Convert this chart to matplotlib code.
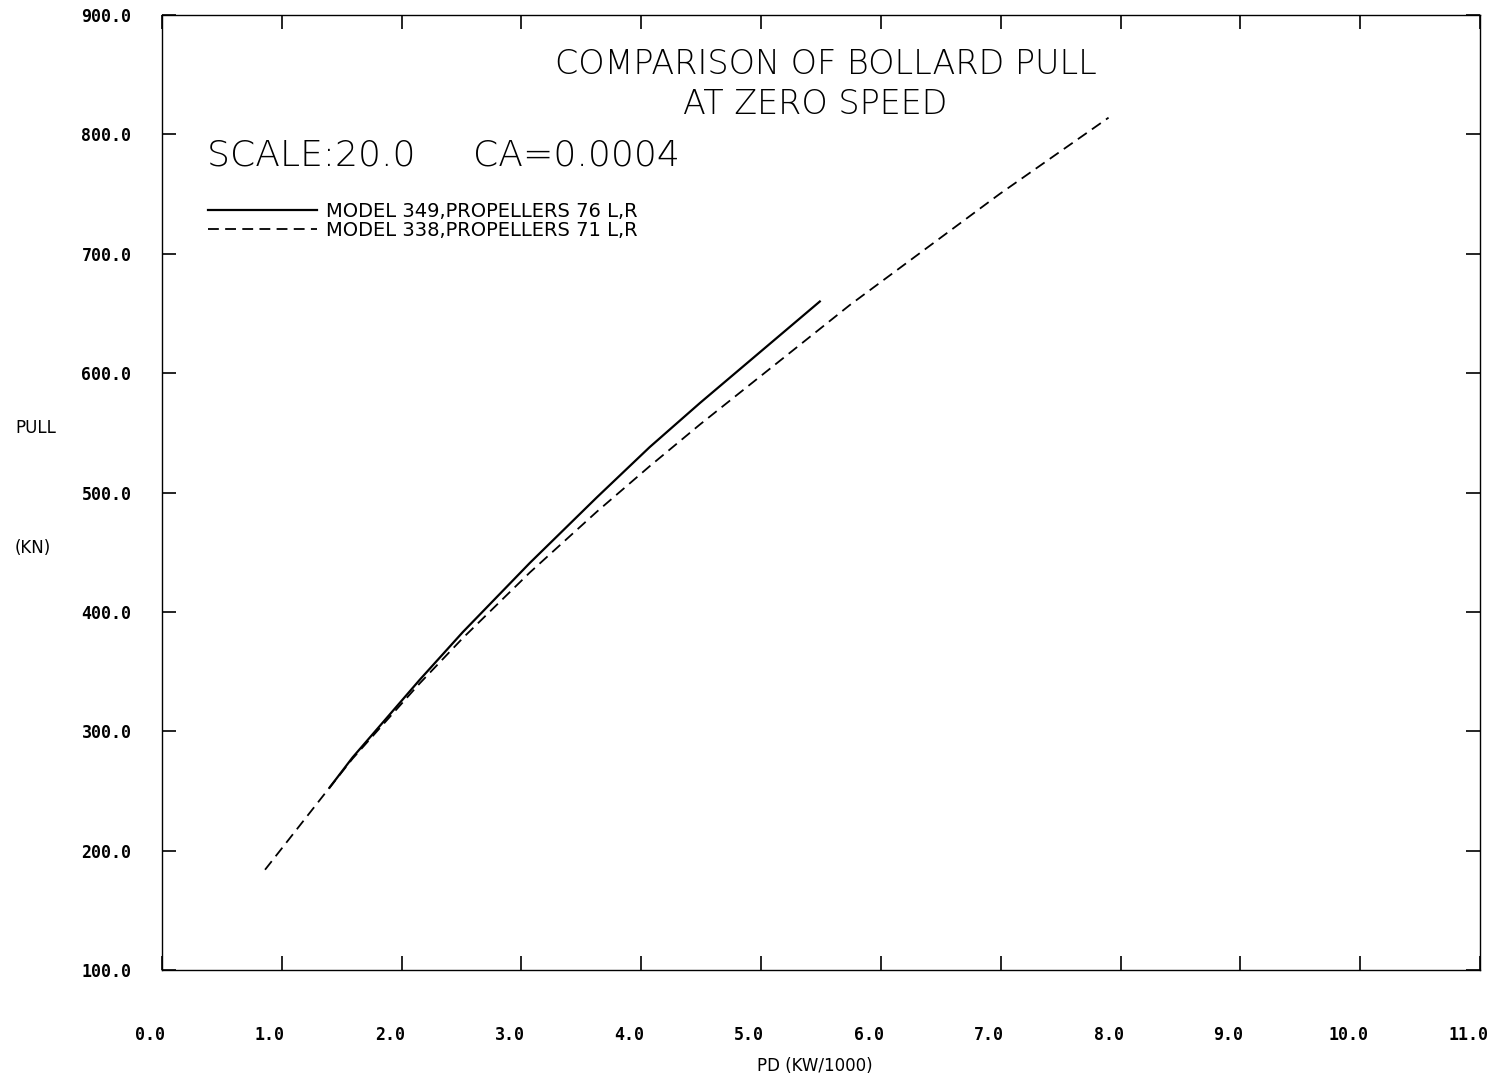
import matplotlib.pyplot as plt
from matplotlib.transforms import ScaledTranslation

# model 349, propellers 76 L,R  (solid)
pd_349 = [1.40, 1.59, 2.15, 2.51, 3.07, 3.63, 4.07, 4.49, 5.49]
pull_349 = [253, 278, 343, 383, 441, 496, 538, 575, 660]

# model 338, propellers 71 L,R  (dashed)
pd_338 = [0.86, 1.40, 1.59, 2.15, 2.51, 3.07, 3.63, 4.07, 4.49, 5.74, 6.99, 7.90]
pull_338 = [184, 253, 277, 340, 378, 433, 484, 522, 557, 657, 750, 814]

x_ticks = [0, 1, 2, 3, 4, 5, 6, 7, 8, 9, 10, 11]
y_ticks = [100, 200, 300, 400, 500, 600, 700, 800, 900]

labels = ["MODEL 349,PROPELLERS 76 L,R", "MODEL 338,PROPELLERS 71 L,R"]

plt.rcParams['font.family'] = ['DejaVu Sans']

fig = plt.figure(figsize=(15.06, 10.79), dpi=100)
ax = fig.add_axes([162 / 1506, 1 - 970 / 1079, (1480 - 162) / 1506, (970 - 15) / 1079])

ax.plot(pd_349, pull_349, color='black', lw=1.6, label=labels[0])
ax.plot(pd_338, pull_338, color='black', lw=1.3, linestyle=(0, (6, 3.5)), label=labels[1])

ax.set_xlim(0, 11)
ax.set_ylim(100, 900)
ax.set_xticks(x_ticks)
ax.set_xticklabels([f"{v:.1f}" for v in x_ticks])
ax.set_yticks(y_ticks)
ax.set_yticklabels([f"{v:.1f}" for v in y_ticks])

for s in ax.spines.values():
    s.set_linewidth(1.0)

ax.tick_params(axis='both', direction='in', length=10, width=1.2,
               top=True, right=True, labelsize=12)
ax.tick_params(axis='x', pad=40)
ax.tick_params(axis='y', pad=22)
for t in ax.get_xticklabels() + ax.get_yticklabels():
    t.set_fontweight('bold')
    t.set_family('DejaVu Sans Mono')
shift = ScaledTranslation(-12 / 100, 0, fig.dpi_scale_trans)
for t in ax.get_xticklabels():
    t.set_transform(t.get_transform() + shift)

# titles
fig.text(826 / 1506, 1 - 65 / 1079, "COMPARISON OF BOLLARD PULL", ha='center', va='center',
         fontsize=24, fontweight='light')
fig.text(815 / 1506, 1 - 105 / 1079, "AT ZERO SPEED", ha='center', va='center',
         fontsize=24, fontweight='light')
fig.text(207 / 1506, 1 - 155 / 1079, "SCALE:20.0     CA=0.0004", ha='left', va='center',
         fontsize=26, fontweight='light')

ax.legend(loc='upper left', bbox_to_anchor=((200 - 162) / 1318, (970 - 194) / 955),
          frameon=False, fontsize=14, handlelength=5.6, handletextpad=0.5,
          labelspacing=0.0, borderaxespad=0)

# axis labels
fig.text(15 / 1506, 1 - 428 / 1079, "PULL", ha='left', va='center', fontsize=12)
fig.text(15 / 1506, 1 - 548 / 1079, "(KN)", ha='left', va='center', fontsize=12)
fig.text(815 / 1506, 1 - 1066 / 1079, "PD (KW/1000)", ha='center', va='center', fontsize=12)

fig.savefig("out.png", dpi=100)
